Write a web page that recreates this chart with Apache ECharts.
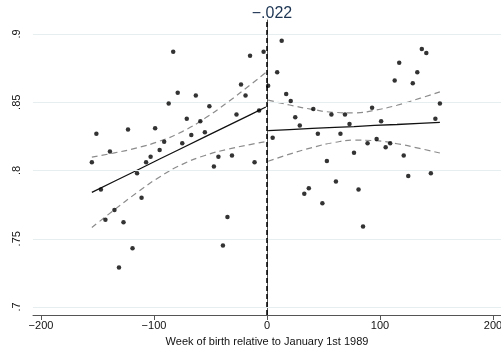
<!DOCTYPE html>
<html>
<head>
<meta charset="utf-8">
<script src="https://cdn.jsdelivr.net/npm/echarts@6/dist/echarts.min.js"></script>
<style>html,body{margin:0;padding:0;background:#fff;}#c{width:501px;height:352px;}</style>
</head>
<body>
<div id="c"></div>
<script>
const titleText = '\u2212.022';
const xAxisTitle = 'Week of birth relative to January 1st 1989';
const xTicks = [-200, -100, 0, 100, 200];
const yTicks = [0.7, 0.75, 0.8, 0.85, 0.9];

const weeksLeft = [-155,-151,-147,-143,-139,-135,-131,-127,-123,-119,-115,-111,-107,-103,-99,-95,-91,-87,-83,-79,-75,-71,-67,-63,-59,-55,-51,-47,-43,-39,-35,-31,-27,-23,-19,-15,-11,-7,-3];
const valuesLeft = [.806,.827,.786,.764,.814,.771,.729,.762,.830,.743,.798,.780,.806,.810,.831,.815,.821,.849,.887,.857,.820,.838,.826,.855,.836,.828,.847,.803,.810,.745,.766,.811,.841,.863,.855,.884,.806,.844,.887];

const weeksRight = [1,5,9,13,17,21,25,29,33,37,41,45,49,53,57,61,65,69,73,77,81,85,89,93,97,101,105,109,113,117,121,125,129,133,137,141,145,149,153];
const valuesRight = [.862,.824,.872,.895,.856,.851,.839,.833,.783,.787,.845,.827,.776,.807,.841,.792,.827,.841,.834,.813,.786,.759,.820,.846,.823,.836,.817,.820,.866,.879,.811,.796,.864,.872,.889,.886,.798,.838,.849];

const fitXLeft = [-155,-135,-115,-95,-75,-55,-35,-15,-1];
const fitLeft = [.7840,.7921,.8002,.8084,.8165,.8246,.8327,.8408,.8465];
const ciUpperLeft = [.8098,.8129,.8166,.8215,.8285,.8382,.8499,.8626,.8718];
const ciLowerLeft = [.7582,.7713,.7838,.7953,.8045,.8110,.8155,.8190,.8212];

const fitXRight = [1,20,40,60,77,95,115,135,153];
const fitRight = [.8292,.8300,.8308,.8316,.8322,.8330,.8337,.8345,.8352];
const ciUpperRight = [.8516,.8480,.8448,.8426,.8422,.8441,.8478,.8528,.8576];
const ciLowerRight = [.8068,.8120,.8168,.8206,.8222,.8219,.8196,.8162,.8128];

const zip = (xs, ys) => xs.map((x, i) => [x, ys[i]]);
const FONT = 'Liberation Sans';
const ciStyle = { color: '#8c8c8c', width: 1.2, type: [6, 4] };
const fitStyle = { color: '#111', width: 1.3 };

function lineSeries(name, xs, ys, style, smooth) {
  return { name, type: 'line', data: zip(xs, ys), showSymbol: false, symbol: 'none',
    smooth: smooth, lineStyle: style, z: 4, silent: true, animation: false };
}

const chart = echarts.init(document.getElementById('c'), null, { renderer: 'canvas' });
chart.setOption({
  animation: false,
  backgroundColor: '#ffffff',
  title: { text: titleText, left: 267, textAlign: 'center', top: 1,
    textStyle: { fontFamily: FONT, fontSize: 16, fontWeight: 'normal', color: '#1c3452' } },
  grid: { left: 33, right: 0, top: 20, bottom: 37, containLabel: false, outerBoundsMode: 'none' },
  xAxis: {
    type: 'value', min: -207.08, max: 207.08,
    name: xAxisTitle, nameLocation: 'middle', nameGap: 21,
    nameTextStyle: { fontFamily: FONT, fontSize: 11, color: '#111' },
    axisLine: { show: true, onZero: false, lineStyle: { color: '#555', width: 1 } },
    axisTick: { show: true, length: 5, customValues: xTicks, lineStyle: { color: '#555' } },
    axisLabel: { customValues: xTicks, margin: 5, fontFamily: FONT, fontSize: 11, color: '#111',
      formatter: v => (v < 0 ? '\u2212' + Math.abs(v) : String(v)) },
    splitLine: { show: false }
  },
  yAxis: {
    type: 'value', min: 0.69414, max: 0.91026,
    axisLine: { show: true, lineStyle: { color: '#555', width: 1 } },
    axisTick: { show: true, length: 5, customValues: yTicks, lineStyle: { color: '#555' } },
    axisLabel: { customValues: yTicks, rotate: 90, margin: 11, fontFamily: FONT, fontSize: 11, color: '#111',
      formatter: v => String(Math.round(v * 100) / 100).replace(/^0/, '') },
    splitLine: { show: false }
  },
  series: [
    { type: 'line', data: [], z: 1, silent: true,
      markLine: { silent: true, symbol: 'none', label: { show: false }, animation: false,
        lineStyle: { color: '#e6eeef', width: 1, type: 'solid' },
        data: yTicks.map(v => ({ yAxis: v })) } },
    lineSeries('ciUpperLeft', fitXLeft, ciUpperLeft, ciStyle, true),
    lineSeries('ciLowerLeft', fitXLeft, ciLowerLeft, ciStyle, true),
    lineSeries('ciUpperRight', fitXRight, ciUpperRight, ciStyle, true),
    lineSeries('ciLowerRight', fitXRight, ciLowerRight, ciStyle, true),
    lineSeries('fitLeft', fitXLeft, fitLeft, fitStyle, false),
    lineSeries('fitRight', fitXRight, fitRight, fitStyle, false),
    { name: 'left', type: 'scatter', data: zip(weeksLeft, valuesLeft), symbol: 'circle', symbolSize: 4.5,
      itemStyle: { color: '#000' }, z: 5, silent: true },
    { name: 'right', type: 'scatter', data: zip(weeksRight, valuesRight), symbol: 'circle', symbolSize: 4.5,
      itemStyle: { color: '#000' }, z: 5, silent: true,
      markLine: { silent: true, symbol: 'none', label: { show: false }, animation: false,
        lineStyle: { color: '#000', width: 1.5, type: [5, 3] },
        data: [{ xAxis: 0 }] } }
  ]
});
</script>
</body>
</html>
